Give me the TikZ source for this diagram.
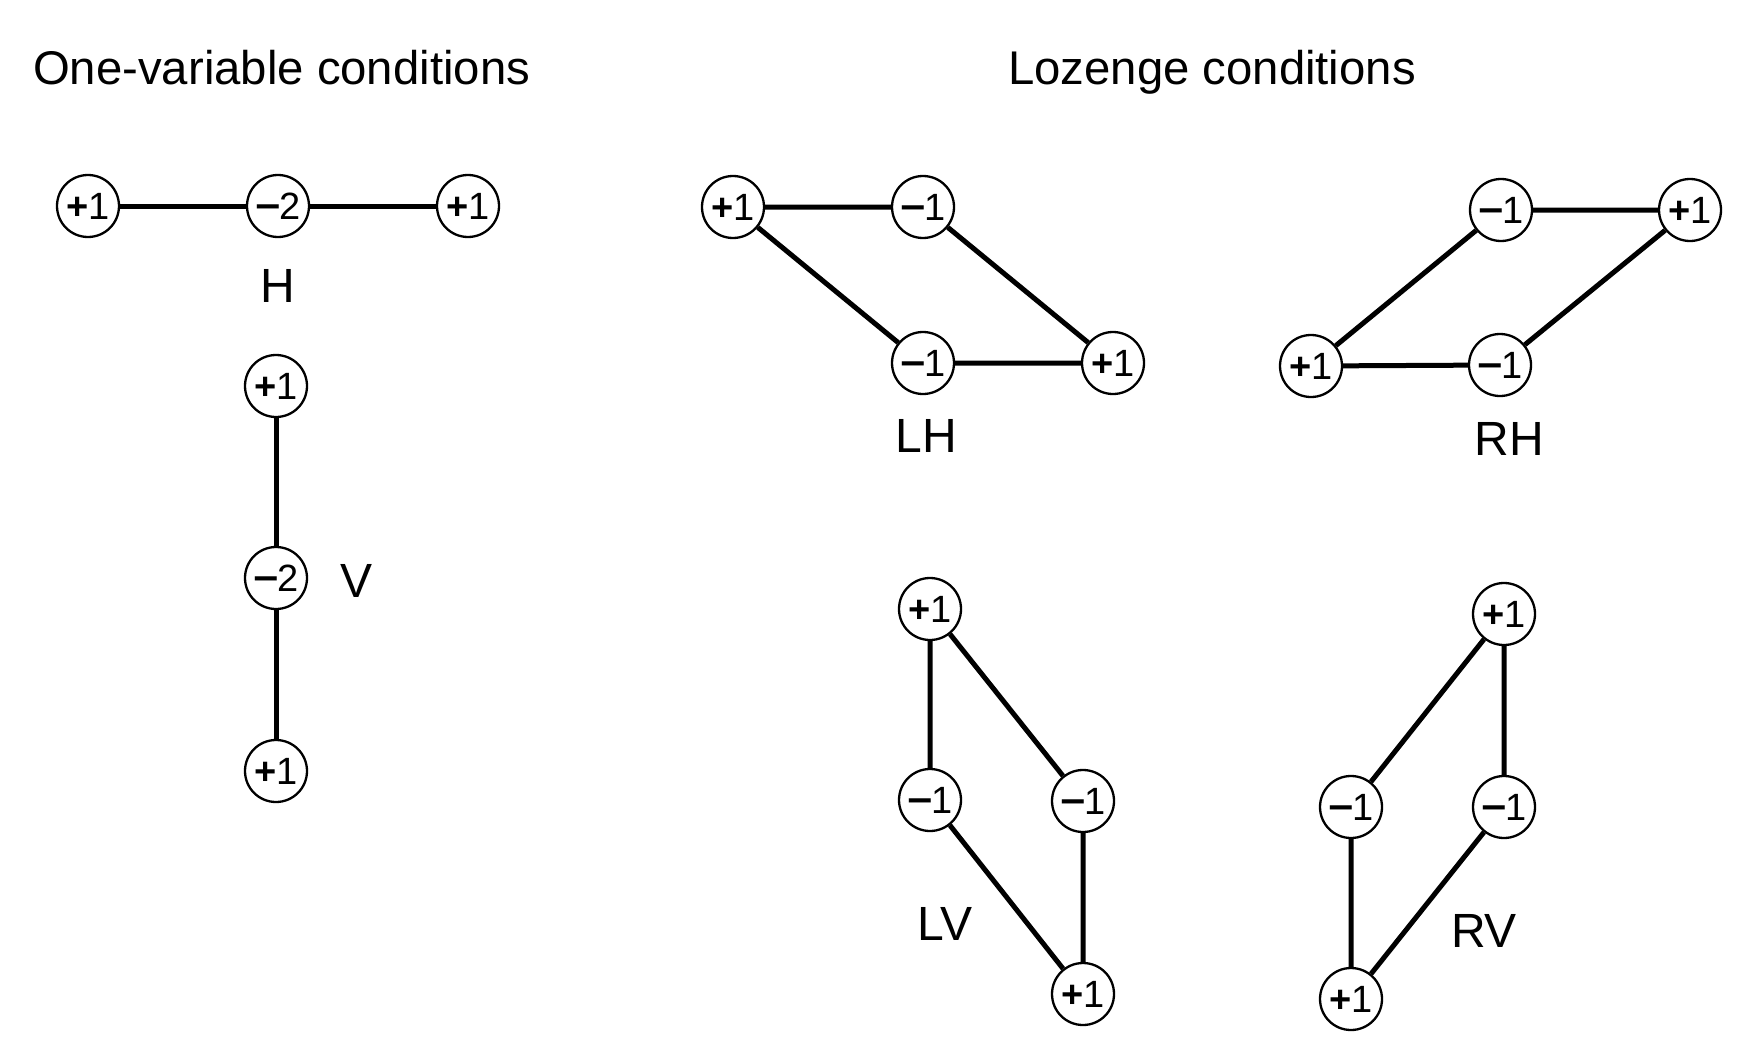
\documentclass[tikz,border=0pt]{standalone}
\usepackage{fontspec}
\setmainfont{Liberation Sans}
\begin{document}
\begin{tikzpicture}[x=1pt,y=-1pt,
  vtx/.style={circle,draw=black,line width=2.3pt,minimum size=62pt,inner sep=0pt,font=\fontsize{38}{38}\selectfont},
  edge/.style={line width=5pt},
  lbl/.style={anchor=base,inner sep=0pt,font=\fontsize{48}{48}\selectfont},
  ttl/.style={anchor=base west,inner sep=0pt,font=\fontsize{47.3}{47.3}\selectfont}]
\useasboundingbox[fill=white] (0,0) rectangle (1742,1054);
\newcommand{\pone}{\textbf{+}\kern-1pt1}
\newcommand{\mone}{\scalebox{1.15}[1]{\textbf{−}}\kern-1pt1}
\newcommand{\mtwo}{\scalebox{1.15}[1]{\textbf{−}}\kern-1pt2}
% titles
\node[ttl] (t1) at (33,85) {One-variable conditions};
\node[ttl] (t2) at (1008,85) {Lozenge conditions};
% H
\node[vtx] (h1) at (88,206) {\pone};
\node[vtx] (h2) at (278,206) {\mtwo};
\node[vtx] (h3) at (468,206) {\pone};
\draw[edge] (h1) -- (h2) (h2) -- (h3);
\node[lbl] (hl) at (278,302) {H};
% V
\node[vtx] (v1) at (276,386) {\pone};
\node[vtx] (v2) at (276,578) {\mtwo};
\node[vtx] (v3) at (276,771) {\pone};
\draw[edge] (v1) -- (v2) (v2) -- (v3);
\node[lbl] (vl) at (357,597) {V};
% LH
\node[vtx] (lh1) at (733,207) {\pone};
\node[vtx] (lh2) at (923,207) {\mone};
\node[vtx] (lh3) at (923,363) {\mone};
\node[vtx] (lh4) at (1113,363) {\pone};
\draw[edge] (lh1) -- (lh2) (lh2) -- (lh4) (lh1) -- (lh3) (lh3) -- (lh4);
\node[lbl] (lhl) at (926,452) {LH};
% RH
\node[vtx] (rh1) at (1501,210) {\mone};
\node[vtx] (rh2) at (1690,210) {\pone};
\node[vtx] (rh3) at (1311,366) {\pone};
\node[vtx] (rh4) at (1500,365) {\mone};
\draw[edge] (rh1) -- (rh2) (rh1) -- (rh3) (rh2) -- (rh4) (rh3) -- (rh4);
\node[lbl] (rhl) at (1509,455) {RH};
% LV
\node[vtx] (lv1) at (930,609) {\pone};
\node[vtx] (lv2) at (930,800) {\mone};
\node[vtx] (lv3) at (1083,801) {\mone};
\node[vtx] (lv4) at (1083,994) {\pone};
\draw[edge] (lv1) -- (lv2) (lv1) -- (lv3) (lv2) -- (lv4) (lv3) -- (lv4);
\node[lbl] (lvl) at (945,940) {LV};
% RV
\node[vtx] (rv1) at (1504,614) {\pone};
\node[vtx] (rv2) at (1351,807) {\mone};
\node[vtx] (rv3) at (1504,807) {\mone};
\node[vtx] (rv4) at (1351,999) {\pone};
\draw[edge] (rv1) -- (rv2) (rv1) -- (rv3) (rv2) -- (rv4) (rv3) -- (rv4);
\node[lbl] (rvl) at (1484,947) {RV};
\end{tikzpicture}
\end{document}
